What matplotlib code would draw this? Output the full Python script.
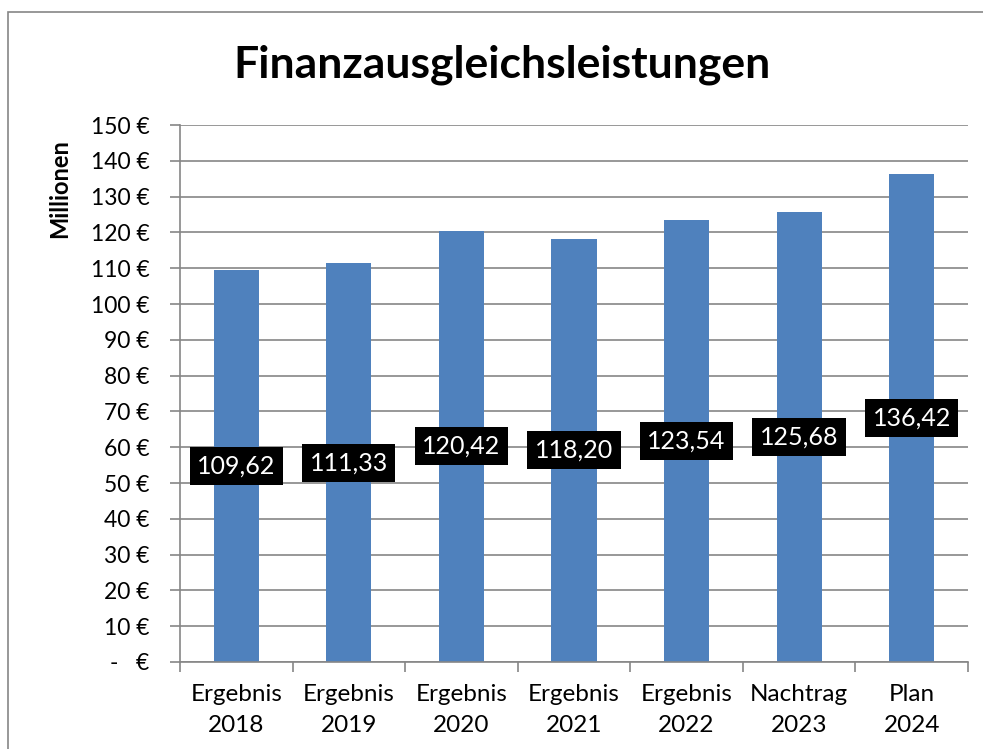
import matplotlib
matplotlib.use('Agg')
import matplotlib.pyplot as plt
from matplotlib.patches import Rectangle

categories = ['Ergebnis\n2018', 'Ergebnis\n2019', 'Ergebnis\n2020', 'Ergebnis\n2021',
              'Ergebnis\n2022', 'Nachtrag\n2023', 'Plan\n2024']
values = [109.62, 111.33, 120.42, 118.20, 123.54, 125.68, 136.42]
yticks = list(range(0, 151, 10))
ytick_labels = ['-   €'] + [f'{v} €' for v in yticks[1:]]

plt.rcParams['font.family'] = ['Lato', 'DejaVu Sans']

fig = plt.figure(figsize=(9.83, 7.49), dpi=100)
ax = fig.add_axes([180 / 983, 1 - 662 / 749, 788 / 983, 537 / 749])

# outer chart frame (cut off at right and bottom like the original)
fig.patches.append(Rectangle((8 / 983, -0.1), 1.2, 1 - 12 / 749 + 0.1,
                             transform=fig.transFigure, fill=False,
                             edgecolor='#868686', linewidth=1.2))

x = range(len(categories))
ax.bar(x, values, width=0.4, color='#4f81bd', zorder=2)

for i, v in enumerate(values):
    ax.text(i, v / 2, f'{v:.2f}'.replace('.', ','), ha='center', va='center',
            color='white', fontsize=18, zorder=3,
            bbox=dict(boxstyle='square,pad=0.3', facecolor='black', edgecolor='none'))

ax.set_xlim(-0.5, len(categories) - 0.5)
ax.set_ylim(0, 150)
ax.set_yticks(yticks)
ax.set_yticklabels(ytick_labels, fontsize=16.5)
ax.set_xticks(list(x))
ax.set_xticklabels(categories, fontsize=17.5, linespacing=1.55)
ax.set_xticks([i - 0.5 for i in range(len(categories) + 1)], minor=True)
ax.tick_params(axis='x', which='major', length=0, pad=16)
ax.tick_params(axis='x', which='minor', length=7, color='#868686', width=1.2)
ax.tick_params(axis='y', length=7, color='#868686', width=1.2, pad=15)

ax.grid(axis='y', color='#868686', linewidth=1.2, zorder=0)
ax.set_axisbelow(True)
for s in ['top', 'right']:
    ax.spines[s].set_visible(False)
for s in ['left', 'bottom']:
    ax.spines[s].set_color('#868686')
    ax.spines[s].set_linewidth(1.2)

fig.text(60 / 983, 1 - 189 / 749, 'Millionen', rotation=90, ha='center', va='center',
         fontsize=17, fontweight='bold')
fig.text(502 / 983, 1 - 65 / 749, 'Finanzausgleichsleistungen', ha='center', va='center',
         fontsize=32, fontweight='bold')

fig.savefig('out.png', dpi=100)
